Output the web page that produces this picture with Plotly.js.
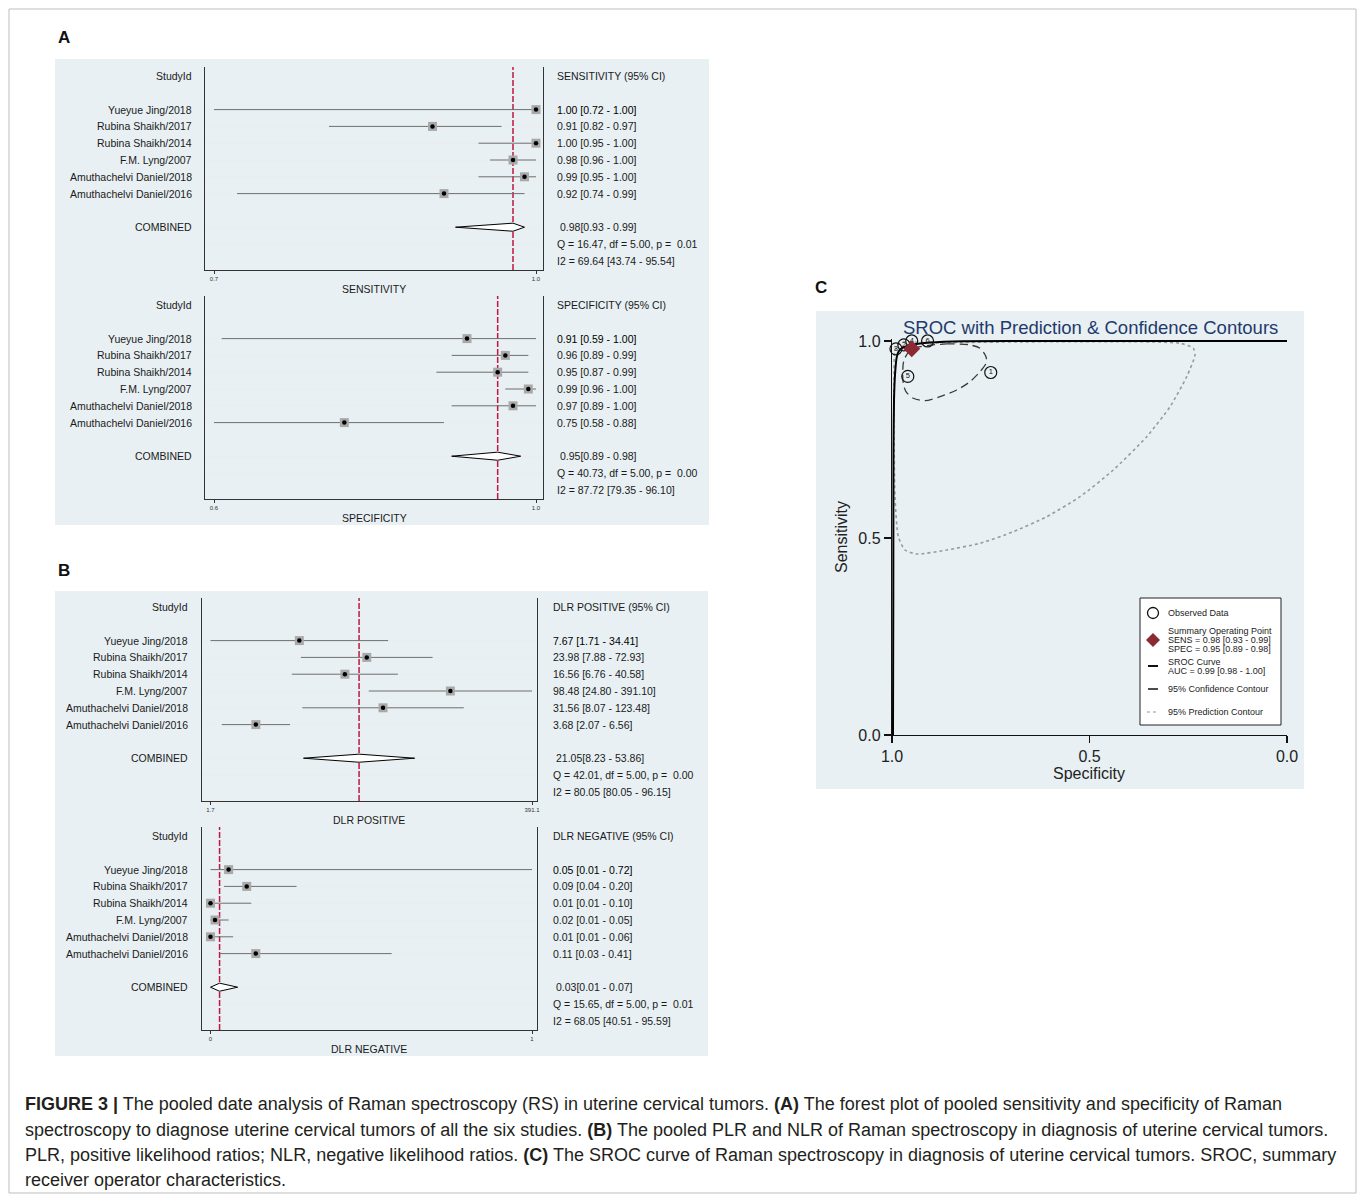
<!DOCTYPE html>
<html><head><meta charset="utf-8">
<script src="https://cdn.plot.ly/plotly-3.0.1.min.js"></script>
<style>html,body{margin:0;padding:0;background:#fff}</style>
</head><body><div id="chart" style="width:1360px;height:1196px"></div>
<script>
// ---------- DATA ----------
const studyNames = ["Yueyue Jing/2018","Rubina Shaikh/2017","Rubina Shaikh/2014","F.M. Lyng/2007","Amuthachelvi Daniel/2018","Amuthachelvi Daniel/2016"];

const sensEst = [1.00,0.91,1.00,0.98,0.99,0.92];
const sensLo  = [0.72,0.82,0.95,0.96,0.95,0.74];
const sensHi  = [1.00,0.97,1.00,1.00,1.00,0.99];
const sensCombined = [0.98,0.93,0.99];
const sensQ  = [16.47,5.00,0.01];
const sensI2 = [69.64,43.74,95.54];
const sensTickText = ["0.7","1.0"];

const specEst = [0.91,0.96,0.95,0.99,0.97,0.75];
const specLo  = [0.59,0.89,0.87,0.96,0.89,0.58];
const specHi  = [1.00,0.99,0.99,1.00,1.00,0.88];
const specCombined = [0.95,0.89,0.98];
const specQ  = [40.73,5.00,0.00];
const specI2 = [87.72,79.35,96.10];
const specTickText = ["0.6","1.0"];

const plrEst = [7.67,23.98,16.56,98.48,31.56,3.68];
const plrLo  = [1.71,7.88,6.76,24.80,8.07,2.07];
const plrHi  = [34.41,72.93,40.58,391.10,123.48,6.56];
const plrCombined = [21.05,8.23,53.86];
const plrQ  = [42.01,5.00,0.00];
const plrI2 = [80.05,80.05,96.15];
const plrTickText = ["1.7","391.1"];

const nlrEst = [0.05,0.09,0.01,0.02,0.01,0.11];
const nlrLo  = [0.01,0.04,0.01,0.01,0.01,0.03];
const nlrHi  = [0.72,0.20,0.10,0.05,0.06,0.41];
const nlrCombined = [0.03,0.01,0.07];
const nlrQ  = [15.65,5.00,0.01];
const nlrI2 = [68.05,40.51,95.59];
const nlrTickText = ["0","1"];

// SROC (x = specificity, y = sensitivity)
const srocTickVals = [1.0,0.5,0.0];
const srocTickText = ["1.0","0.5","0.0"];
const srocCurveSpec = [0.9975,0.9967,0.9962,0.9949,0.9924,0.988,0.9823,0.9714,0.946,0.904,0.82,0.6,0.0];
const srocCurveSens = [0.0,0.343,0.723,0.850,0.914,0.959,0.975,0.9835,0.991,0.996,0.9995,1.0,1.0];
const confSpec = [0.9291,0.8615,0.8025,0.7772,0.762,0.762,0.7772,0.8025,0.8362,0.8785,0.9165,0.9461,0.9646,0.9714,0.9729,0.9696,0.9544,0.9291];
const confSens = [0.9855,0.9924,0.9898,0.9815,0.9601,0.9434,0.9221,0.8967,0.8756,0.8586,0.8485,0.8546,0.8713,0.8926,0.918,0.9518,0.9754,0.9855];
const predSpec = [0.9797,0.9038,0.2709,0.2372,0.2329,0.2539,0.2962,0.3552,0.4397,0.5241,0.6084,0.6929,0.7772,0.8615,0.9375,0.9671,0.984,0.9924,0.9949,0.9949,0.9924,0.9797];
const predSens = [0.9957,0.9957,0.9942,0.9815,0.9645,0.9094,0.8332,0.7571,0.6726,0.6048,0.554,0.516,0.4865,0.4695,0.4594,0.4695,0.5033,0.6048,0.7741,0.901,0.9772,0.9957];
const aucValues = [0.99,0.98,1.00];

const captionLines = [
 "<b>FIGURE 3 |</b> The pooled date analysis of Raman spectroscopy (RS) in uterine cervical tumors. <b>(A)</b> The forest plot of pooled sensitivity and specificity of Raman",
 "spectroscopy to diagnose uterine cervical tumors of all the six studies. <b>(B)</b> The pooled PLR and NLR of Raman spectroscopy in diagnosis of uterine cervical tumors.",
 "PLR, positive likelihood ratios; NLR, negative likelihood ratios. <b>(C)</b> The SROC curve of Raman spectroscopy in diagnosis of uterine cervical tumors. SROC, summary",
 "receiver operator characteristics."
];

// ---------- LAYOUT HELPERS ----------
const W = 1360, H = 1196;
const px = x => x / W, py = y => 1 - y / H;
const FONT = 'Liberation Sans, Arial, sans-serif';
const TXT = '#1a1a1a';
const PANEL_BG = '#e8f0f3';
const fmt = v => v.toFixed(2);
const PAD = 2; // annotation inner padding compensation

const traces = [];
const annotations = [];
const shapes = [];
const layout = {
  width: W, height: H, margin: {l:0,r:0,t:0,b:0},
  paper_bgcolor: '#ffffff', plot_bgcolor: '#ffffff',
  showlegend: false, font: {family: FONT, color: TXT},
  annotations, shapes
};

function ann(text, x, y, o) {
  annotations.push(Object.assign({text, x, y, xref:'paper', yref:'paper', showarrow:false,
    xanchor:'left', yanchor:'middle', font:{family:FONT, size:10.5, color:TXT}}, o || {}));
}
function rectPx(x0,y0,x1,y1,fill,line,lw,layer){
  shapes.push({type:'rect', xref:'paper', yref:'paper', x0:px(x0), x1:px(x1), y0:py(y1), y1:py(y0),
    fillcolor:fill, line:{color:line||'rgba(0,0,0,0)', width:lw||0}, layer:layer||'below'});
}

// outer frame and panel backgrounds
rectPx(9,9,1356,1193,'rgba(0,0,0,0)','#bdbdbd',1,'below');
rectPx(55,59,709,525,PANEL_BG);
rectPx(55,591,708,1056,PANEL_BG);
rectPx(816,311,1304,789,PANEL_BG);

// panel letters
ann('<b>A</b>', px(58-PAD), py(38), {font:{family:FONT,size:17,color:'#111'}});
ann('<b>B</b>', px(58-PAD), py(570), {font:{family:FONT,size:17,color:'#111'}});
ann('<b>C</b>', px(815-PAD), py(287), {font:{family:FONT,size:17,color:'#111'}});

// ---------- FOREST PLOTS ----------
const S = 16.8;
const forests = [
 {k:1, est:sensEst, lo:sensLo, hi:sensHi, comb:sensCombined, q:sensQ, i2:sensI2, head:'SENSITIVITY (95% CI)', title:'SENSITIVITY', tickText:sensTickText, log:false, T:67, B:270, Y0:76, box:[205,543], tk:[214,536], nameX:192, valX:557},
 {k:2, est:specEst, lo:specLo, hi:specHi, comb:specCombined, q:specQ, i2:specI2, head:'SPECIFICITY (95% CI)', title:'SPECIFICITY', tickText:specTickText, log:false, T:296, B:499, Y0:305, box:[205,543], tk:[214,536], nameX:192, valX:557},
 {k:3, est:plrEst, lo:plrLo, hi:plrHi, comb:plrCombined, q:plrQ, i2:plrI2, head:'DLR POSITIVE (95% CI)', title:'DLR POSITIVE', tickText:plrTickText, log:true, T:598, B:801, Y0:607, box:[202,537], tk:[210.5,532], nameX:188, valX:553},
 {k:4, est:nlrEst, lo:nlrLo, hi:nlrHi, comb:nlrCombined, q:nlrQ, i2:nlrI2, head:'DLR NEGATIVE (95% CI)', title:'DLR NEGATIVE', tickText:nlrTickText, log:false, T:827, B:1030, Y0:836, box:[202,537], tk:[210.5,532], nameX:188, valX:553}
];

forests.forEach(f => {
  const sfx = f.k === 1 ? '' : String(f.k);
  const xr = 'x' + sfx, yr = 'y' + sfx;
  const mn = Math.min(...f.lo), mx = Math.max(...f.hi);
  const tr = v => f.log ? Math.log10(v) : v;
  const a = tr(mn), b = tr(mx);
  const pl = (f.tk[0]-f.box[0])/(f.tk[1]-f.tk[0]);
  const pr = (f.box[1]-f.tk[1])/(f.tk[1]-f.tk[0]);
  layout['xaxis'+sfx] = {
    domain:[px(f.box[0]), px(f.box[1])], range:[a-pl*(b-a), b+pr*(b-a)],
    type: f.log ? 'log' : 'linear', anchor: yr,
    showline:true, linecolor:'#333', linewidth:1, ticks:'outside', ticklen:3, tickwidth:1, tickcolor:'#333',
    tickvals:[mn, mx], ticktext:f.tickText, tickfont:{family:FONT, size:6, color:'#333'},
    showgrid:false, zeroline:false, fixedrange:true
  };
  const rT = (f.T - f.Y0)/S, rB = (f.B - f.Y0)/S;
  layout['yaxis'+sfx] = {
    domain:[py(f.B), py(f.T)], range:[rB, rT], anchor: xr,
    showline:true, mirror:true, linecolor:'#333', linewidth:1,
    tickvals:[2,3,4,5,6,7,9,10], showticklabels:false, ticks:'',
    showgrid:true, gridcolor:'#ececec', gridwidth:1, zeroline:false, fixedrange:true
  };
  const rows = f.est.map((_, i) => i + 2);
  // combined reference line
  traces.push({type:'scatter', mode:'lines', x:[f.comb[0], f.comb[0]], y:[rB, rT], xaxis:xr, yaxis:yr,
    line:{color:'#c0163f', width:1.5, dash:'6px,2px'}, hoverinfo:'skip'});
  // CI lines
  const lx = [], ly = [];
  f.lo.forEach((l, i) => { lx.push(l, f.hi[i], null); ly.push(rows[i], rows[i], null); });
  traces.push({type:'scatter', mode:'lines', x:lx, y:ly, xaxis:xr, yaxis:yr, line:{color:'#6f6f6f', width:1}, hoverinfo:'skip'});
  // study boxes and point estimates
  traces.push({type:'scatter', mode:'markers', x:f.est, y:rows, xaxis:xr, yaxis:yr,
    marker:{symbol:'square', size:9, color:'#a9a9a9', line:{width:0}}, cliponaxis:false, hoverinfo:'skip'});
  traces.push({type:'scatter', mode:'markers', x:f.est, y:rows, xaxis:xr, yaxis:yr,
    marker:{symbol:'circle', size:4.5, color:'#000'}, cliponaxis:false, hoverinfo:'skip'});
  // combined diamond
  const rc = 9, hh = 0.24;
  traces.push({type:'scatter', mode:'lines', x:[f.comb[1], f.comb[0], f.comb[2], f.comb[0], f.comb[1]],
    y:[rc, rc-hh, rc, rc+hh, rc], xaxis:xr, yaxis:yr, fill:'toself', fillcolor:'#ffffff',
    line:{color:'#000', width:1}, hoverinfo:'skip'});

  // text columns
  const tn = {xref:'paper', yref:yr, xanchor:'right'};
  const nx = px(f.nameX + PAD);
  ann('StudyId', nx, 0, tn);
  studyNames.forEach((n, i) => ann(n, nx, rows[i], tn));
  ann('COMBINED', nx, rc, tn);
  const tv = {xref:'paper', yref:yr, xanchor:'left'};
  const vx = px(f.valX - PAD);
  ann(f.head, vx, 0, tv);
  f.est.forEach((e, i) => ann(`${fmt(e)} [${fmt(f.lo[i])} - ${fmt(f.hi[i])}]`, vx, rows[i],
    Object.assign({}, tv, i === 0 ? {font:{family:FONT, size:10.5, color:'#000'}} : {})));
  ann(`${fmt(f.comb[0])}[${fmt(f.comb[1])} - ${fmt(f.comb[2])}]`, px(f.valX + 2.5 - PAD), rc, tv);
  ann(`Q = ${fmt(f.q[0])}, df = ${fmt(f.q[1])}, p = \u00a0${fmt(f.q[2])}`, vx, 10, tv);
  ann(`I2 = ${fmt(f.i2[0])} [${fmt(f.i2[1])} - ${fmt(f.i2[2])}]`, vx, 11, tv);
  ann(f.title, px((f.box[0]+f.box[1])/2), py(f.B+19), {xanchor:'center'});
});

// ---------- SROC ----------
layout.xaxis5 = {
  domain:[px(892), px(1287)], range:[1, 0], anchor:'y5',
  showline:true, linecolor:'#111', linewidth:1.2, ticks:'outside', ticklen:7, tickwidth:1.2, tickcolor:'#111',
  tickvals:srocTickVals, ticktext:srocTickText, tickfont:{family:FONT, size:16, color:'#222'},
  showgrid:false, zeroline:false, fixedrange:true
};
layout.yaxis5 = {
  domain:[py(735), py(339)], range:[0, 1.005], anchor:'x5',
  showline:true, linecolor:'#111', linewidth:1.2, ticks:'outside', ticklen:7, tickwidth:1.2, tickcolor:'#111',
  tickvals:srocTickVals, ticktext:srocTickText, tickfont:{family:FONT, size:16, color:'#222'},
  showgrid:false, zeroline:false, fixedrange:true
};
traces.push({type:'scatter', mode:'lines', x:predSpec, y:predSens, xaxis:'x5', yaxis:'y5',
  line:{color:'#9a9a9a', width:1.6, dash:'dot', shape:'spline', smoothing:0.6}, cliponaxis:false, hoverinfo:'skip'});
traces.push({type:'scatter', mode:'lines', x:confSpec, y:confSens, xaxis:'x5', yaxis:'y5',
  line:{color:'#3a3a3a', width:1.3, dash:'8px,5px', shape:'spline', smoothing:0.8}, cliponaxis:false, hoverinfo:'skip'});
traces.push({type:'scatter', mode:'lines', x:srocCurveSpec, y:srocCurveSens, xaxis:'x5', yaxis:'y5',
  line:{color:'#000', width:2, shape:'spline', smoothing:0.5}, cliponaxis:false, hoverinfo:'skip'});

// observed data, numbered alphabetically by study name
const order = studyNames.map((n, i) => i).sort((p, q) => studyNames[p] < studyNames[q] ? -1 : 1);
traces.push({type:'scatter', mode:'markers+text', xaxis:'x5', yaxis:'y5',
  x: order.map(i => specEst[i]), y: order.map(i => sensEst[i]), text: order.map((_, j) => String(j+1)),
  textposition:'middle center', textfont:{family:FONT, size:7.5, color:'#111'},
  marker:{symbol:'circle-open', size:12, color:'#111', line:{width:1.2, color:'#111'}}, cliponaxis:false, hoverinfo:'skip'});
traces.push({type:'scatter', mode:'markers', xaxis:'x5', yaxis:'y5', x:[specCombined[0]], y:[sensCombined[0]],
  marker:{symbol:'diamond', size:13, color:'#8c2a33'}, cliponaxis:false, hoverinfo:'skip'});

ann('SROC with Prediction & Confidence Contours', px(1090), py(327), {xanchor:'center', font:{family:FONT, size:18.5, color:'#1f3a6b'}});
ann('Specificity', px(1089), py(773), {xanchor:'center', font:{family:FONT, size:16, color:'#222'}});
ann('Sensitivity', px(841), py(537), {xanchor:'center', textangle:-90, font:{family:FONT, size:16, color:'#222'}});

// legend box (C)
rectPx(1140,598,1281,725,'#ffffff','#222',1,'above');
shapes.push({type:'circle', xref:'paper', yref:'paper', x0:px(1147.5), x1:px(1158.5), y0:py(618.5), y1:py(607.5), line:{color:'#111', width:1.3}, layer:'above'});
shapes.push({type:'path', xref:'paper', yref:'paper',
  path:`M ${px(1146)} ${py(640)} L ${px(1153)} ${py(633)} L ${px(1160)} ${py(640)} L ${px(1153)} ${py(647)} Z`,
  fillcolor:'#8c2a33', line:{width:0}, layer:'above'});
shapes.push({type:'line', xref:'paper', yref:'paper', x0:px(1148), x1:px(1158), y0:py(666), y1:py(666), line:{color:'#111', width:2}, layer:'above'});
shapes.push({type:'line', xref:'paper', yref:'paper', x0:px(1148), x1:px(1158), y0:py(689), y1:py(689), line:{color:'#111', width:1.5}, layer:'above'});
shapes.push({type:'line', xref:'paper', yref:'paper', x0:px(1147), x1:px(1159), y0:py(712), y1:py(712), line:{color:'#999', width:1.2, dash:'dot'}, layer:'above'});
const lf = {font:{family:FONT, size:9, color:'#222'}};
const lx0 = px(1168 - PAD);
ann('Observed Data', lx0, py(613), lf);
ann('Summary Operating Point', lx0, py(631), lf);
ann(`SENS = ${fmt(sensCombined[0])} [${fmt(sensCombined[1])} - ${fmt(sensCombined[2])}]`, lx0, py(640), lf);
ann(`SPEC = ${fmt(specCombined[0])} [${fmt(specCombined[1])} - ${fmt(specCombined[2])}]`, lx0, py(649), lf);
ann('SROC Curve', lx0, py(662), lf);
ann(`AUC = ${fmt(aucValues[0])} [${fmt(aucValues[1])} - ${fmt(aucValues[2])}]`, lx0, py(671), lf);
ann('95% Confidence Contour', lx0, py(689), lf);
ann('95% Prediction Contour', lx0, py(712), lf);

// ---------- CAPTION ----------
const capY = [1104, 1129.5, 1155, 1180];
captionLines.forEach((t, i) => ann(t, px(25 - PAD), py(capY[i]), {font:{family:FONT, size:18, color:'#231f20'}}));

Plotly.newPlot('chart', traces, layout, {displayModeBar:false, staticPlot:true});
</script>
</body></html>
